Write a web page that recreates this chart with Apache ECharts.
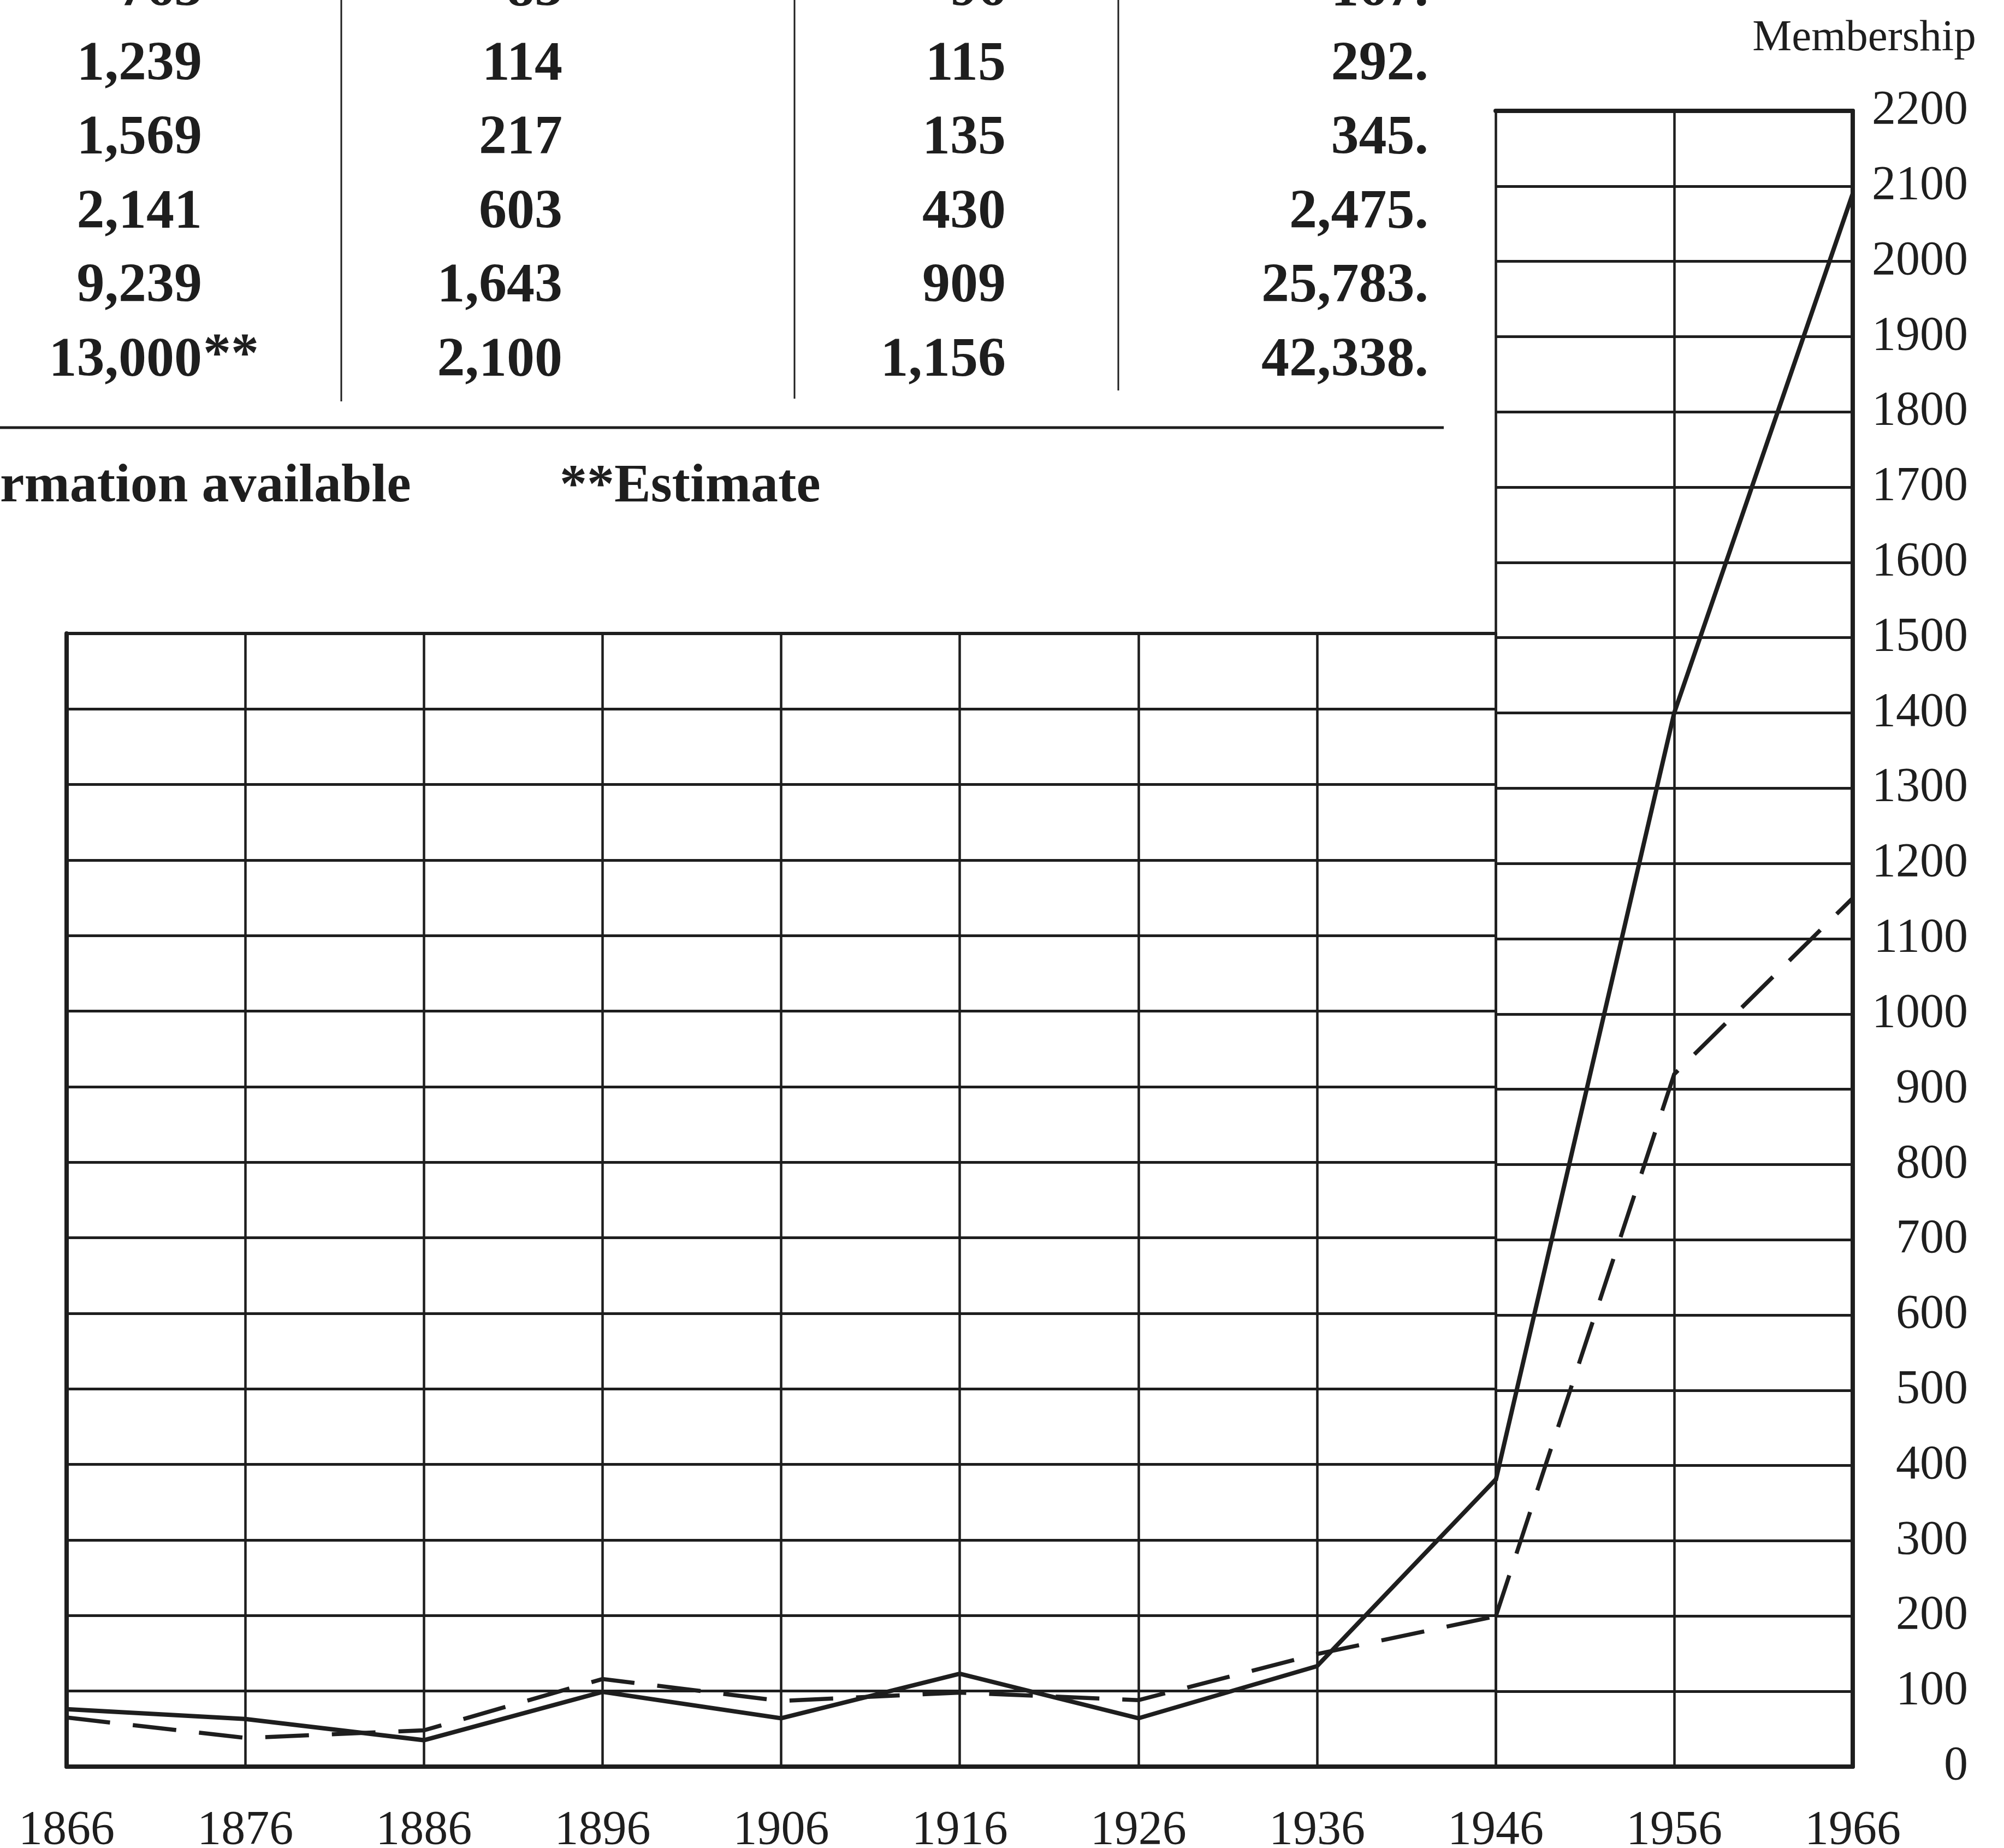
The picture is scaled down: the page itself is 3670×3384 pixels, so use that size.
<!DOCTYPE html>
<html>
<head>
<meta charset="utf-8">
<script src="https://cdn.jsdelivr.net/npm/echarts@6/dist/echarts.min.js"></script>
<style>
  html, body { margin: 0; padding: 0; background: #ffffff; }
  #chart { width: 3670px; height: 3384px; }
</style>
</head>
<body>
<div id="chart"></div>
<script>
// ---- data ----
const years = ['1866','1876','1886','1896','1906','1916','1926','1936','1946','1956','1966'];
const solidValues  = [76, 63, 35, 99, 64, 123, 64, 133, 380, 1400, 2090];
const dashedValues = [65, 38, 48, 116, 87, 98, 88, 149, 199, 920, 1154];
const splitIndex = 8; // 1946: where the tall right-hand panel begins

// table fragment at top-left (first row is cut off by the page edge)
const tableCol1 = ['763', '1,239', '1,569', '2,141', '9,239', '13,000'];
const tableCol1Note = ['', '', '', '', '', '**'];
const tableCol2 = ['83', '114', '217', '603', '1,643', '2,100'];
const tableCol3 = ['96', '115', '135', '430', '909', '1,156'];
const tableCol4 = ['167.', '292.', '345.', '2,475.', '25,783.', '42,338.'];
const footnoteLeft = 'rmation available';
const footnoteRight = '**Estimate';
const yAxisTitle = 'Membership';

// ---- styling ----
const INK = '#1e1e1e';
const SERIF = '"Liberation Serif", "DejaVu Serif", serif';
const tableFont = 'bold 102px ' + SERIF;

const rowY0 = -16, rowStep = 135.5;
const colRight = [370, 1030, 1842, 2616];

const graphics = [];
for (let i = 0; i < tableCol1.length; i++) {
  const y = rowY0 + i * rowStep;
  const cols = [tableCol1[i], tableCol2[i], tableCol3[i], tableCol4[i]];
  cols.forEach((t, c) => {
    graphics.push({ type: 'text', x: colRight[c], y: y, silent: true,
      style: { text: t, font: tableFont, fill: INK, textAlign: 'right', textVerticalAlign: 'middle' } });
  });
  if (tableCol1Note[i]) {
    graphics.push({ type: 'text', x: colRight[0] + 2, y: y - 8, silent: true,
      style: { text: tableCol1Note[i], font: tableFont, fill: INK, textAlign: 'left', textVerticalAlign: 'middle' } });
  }
}
// column separators
[[625, 735], [1455, 730], [2048, 715]].forEach(([x, yb]) => {
  graphics.push({ type: 'line', silent: true, shape: { x1: x, y1: 0, x2: x, y2: yb },
    style: { stroke: INK, lineWidth: 3 } });
});
// horizontal rule under the table
graphics.push({ type: 'line', silent: true, shape: { x1: 0, y1: 783, x2: 2644, y2: 783 },
  style: { stroke: INK, lineWidth: 5 } });
// footnotes
graphics.push({ type: 'text', x: 0, y: 892, silent: true,
  style: { text: footnoteLeft, font: 'bold 100px ' + SERIF, fill: INK, textAlign: 'left', textVerticalAlign: 'middle' } });
graphics.push({ type: 'text', x: 1025, y: 892, silent: true,
  style: { text: footnoteRight, font: 'bold 100px ' + SERIF, fill: INK, textAlign: 'left', textVerticalAlign: 'middle' } });

const leftYears = years.slice(0, splitIndex + 1);
const rightYears = years.slice(splitIndex);

const labelStyle = { fontFamily: SERIF, fontSize: 88, color: INK };
const gridLine = { show: true, lineStyle: { color: INK, width: 5, type: 'solid' } };
const borderLine = { show: true, onZero: false, lineStyle: { color: INK, width: 8 } };

const chart = echarts.init(document.getElementById('chart'), null, { renderer: 'canvas' });
chart.setOption({
  animation: false,
  backgroundColor: '#ffffff',
  graphic: graphics,
  grid: [
    { left: 122, top: 1160, width: 2617, height: 2075, outerBoundsMode: 'none', containLabel: false },
    { left: 2739, top: 203, width: 654, height: 3032, outerBoundsMode: 'none', containLabel: false }
  ],
  xAxis: [
    { gridIndex: 0, type: 'category', data: leftYears, boundaryGap: false, position: 'bottom',
      axisLine: borderLine, axisTick: { show: false },
      axisLabel: Object.assign({ margin: 74, interval: 0 }, labelStyle),
      splitLine: { show: true, interval: 0, lineStyle: { color: INK, width: 4.5 } } },
    { gridIndex: 0, type: 'category', data: leftYears, boundaryGap: false, position: 'top',
      axisLine: { show: true, onZero: false, lineStyle: { color: INK, width: 6 } },
      axisTick: { show: false }, axisLabel: { show: false }, splitLine: { show: false } },
    { gridIndex: 1, type: 'category', data: rightYears, boundaryGap: false, position: 'bottom',
      axisLine: borderLine, axisTick: { show: false },
      axisLabel: Object.assign({ margin: 74, interval: (idx) => idx > 0 }, labelStyle),
      splitLine: { show: true, interval: 0, lineStyle: { color: INK, width: 4.5 } } },
    { gridIndex: 1, type: 'category', data: rightYears, boundaryGap: false, position: 'top',
      axisLine: { show: true, onZero: false, lineStyle: { color: INK, width: 8 } },
      axisTick: { show: false }, axisLabel: { show: false }, splitLine: { show: false } }
  ],
  yAxis: [
    { gridIndex: 0, type: 'value', min: 0, max: 1500, interval: 100, position: 'left',
      axisLine: borderLine, axisTick: { show: false }, axisLabel: { show: false },
      splitLine: gridLine },
    { gridIndex: 1, type: 'value', min: 0, max: 2200, interval: 100, position: 'right',
      name: yAxisTitle, nameLocation: 'end', nameGap: 92,
      nameTextStyle: { fontFamily: SERIF, fontSize: 81, color: INK, padding: [0, 0, 0, 42] },
      axisLine: borderLine, axisTick: { show: false },
      axisLabel: Object.assign({ margin: 211, align: 'right', formatter: (v) => String(v) }, labelStyle),
      splitLine: gridLine }
  ],
  series: [
    { type: 'line', xAxisIndex: 0, yAxisIndex: 0, data: solidValues.slice(0, splitIndex + 1),
      symbol: 'none', silent: true, z: 5,
      lineStyle: { color: INK, width: 8, type: 'solid', join: 'miter' } },
    { type: 'line', xAxisIndex: 0, yAxisIndex: 0, data: dashedValues.slice(0, splitIndex + 1),
      symbol: 'none', silent: true, z: 5,
      lineStyle: { color: INK, width: 7.5, type: [80, 42], join: 'miter' } },
    { type: 'line', xAxisIndex: 2, yAxisIndex: 1, data: solidValues.slice(splitIndex),
      symbol: 'none', silent: true, z: 5,
      lineStyle: { color: INK, width: 8, type: 'solid', join: 'miter' } },
    { type: 'line', xAxisIndex: 2, yAxisIndex: 1, data: dashedValues.slice(splitIndex),
      symbol: 'none', silent: true, z: 5,
      lineStyle: { color: INK, width: 7.5, type: [80, 42], join: 'miter' } }
  ]
});
</script>
</body>
</html>
